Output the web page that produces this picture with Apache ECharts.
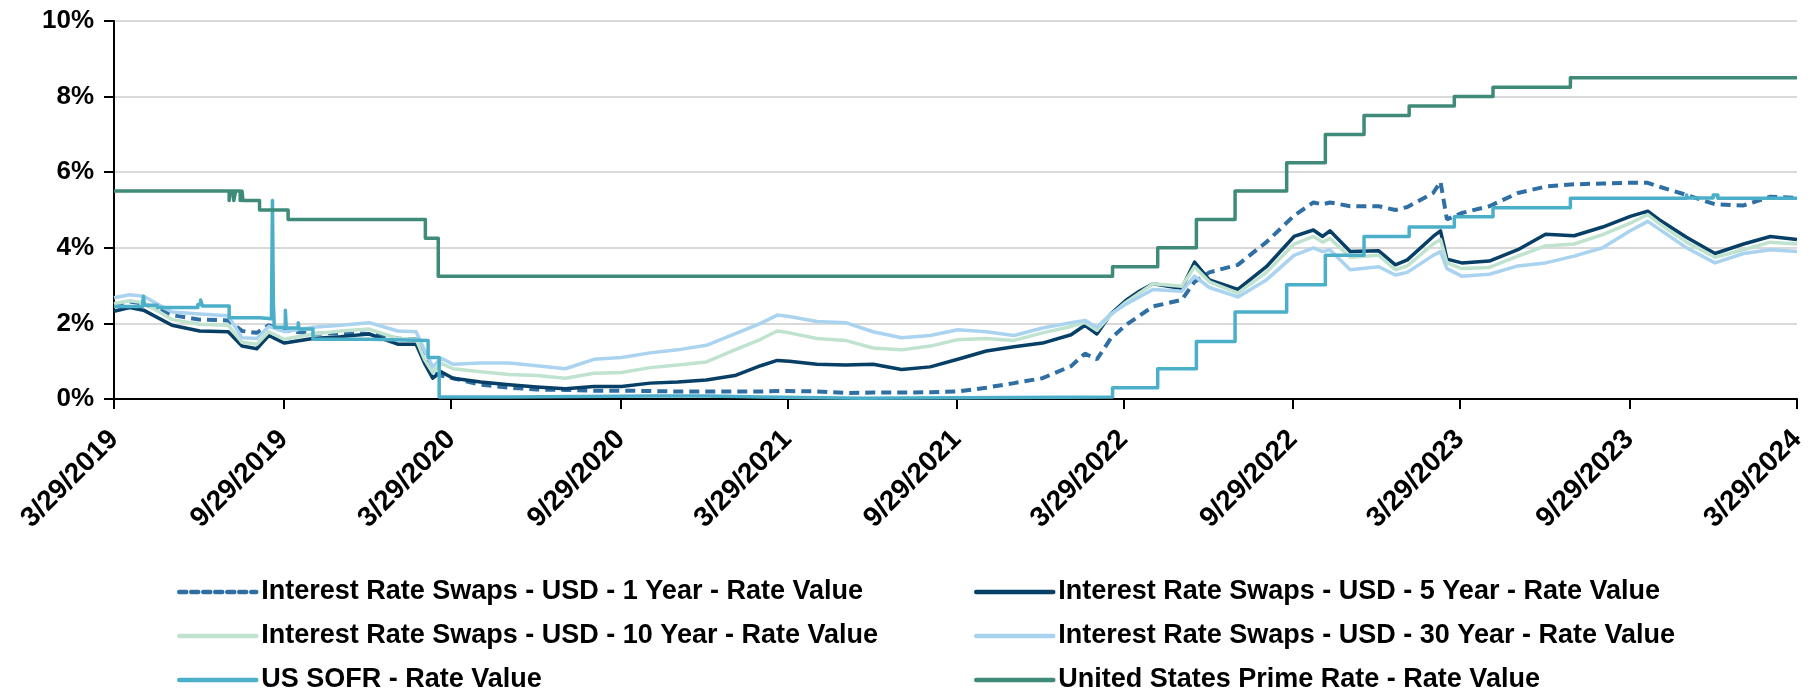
<!DOCTYPE html>
<html>
<head>
<meta charset="utf-8">
<script src="https://cdn.jsdelivr.net/npm/echarts@6/dist/echarts.min.js"></script>
<style>
  html, body { margin: 0; padding: 0; background: #fff; }
  #chart { width: 1818px; height: 693px; }
</style>
</head>
<body>
<div id="chart"></div>
<script>
// x axis tick labels
var tickDates = ['2019-03-29', '2019-09-29', '2020-03-29', '2020-09-29', '2021-03-29', '2021-09-29',
  '2022-03-29', '2022-09-29', '2023-03-29', '2023-09-29', '2024-03-29'];

// swap curves
var swapDates = [
  '2019-03-29', '2019-04-15', '2019-04-30', '2019-05-31', '2019-06-30', '2019-07-31', '2019-08-15', '2019-08-31',
  '2019-09-13', '2019-09-30', '2019-10-31', '2019-11-30', '2019-12-31', '2020-01-31', '2020-02-20', '2020-02-29',
  '2020-03-09', '2020-03-18', '2020-03-31', '2020-04-30', '2020-05-31', '2020-06-30', '2020-07-31', '2020-08-31',
  '2020-09-30', '2020-10-31', '2020-11-30', '2020-12-31', '2021-01-31', '2021-02-28', '2021-03-18', '2021-03-31',
  '2021-04-30', '2021-05-31', '2021-06-30', '2021-07-31', '2021-08-31', '2021-09-30', '2021-10-31', '2021-11-30',
  '2021-12-31', '2022-01-31', '2022-02-15', '2022-02-28', '2022-03-15', '2022-03-31', '2022-04-15', '2022-04-30',
  '2022-05-31', '2022-06-14', '2022-06-30', '2022-07-31', '2022-08-31', '2022-09-30', '2022-10-21', '2022-10-31',
  '2022-11-08', '2022-11-30', '2022-12-31', '2023-01-18', '2023-01-31', '2023-02-28', '2023-03-08', '2023-03-15',
  '2023-03-31', '2023-04-30', '2023-05-31', '2023-06-30', '2023-07-31', '2023-08-31', '2023-09-30', '2023-10-19',
  '2023-10-31', '2023-11-30', '2023-12-31', '2024-01-31', '2024-02-29', '2024-03-29'];
var oneYear = [
  2.50, 2.58, 2.52, 2.22, 2.10, 2.08, 1.80, 1.75,
  1.95, 1.82, 1.72, 1.75, 1.72, 1.60, 1.58, 1.15,
  0.70, 0.62, 0.55, 0.38, 0.30, 0.25, 0.24, 0.22,
  0.22, 0.21, 0.20, 0.20, 0.20, 0.20, 0.21, 0.21,
  0.20, 0.16, 0.17, 0.17, 0.18, 0.20, 0.30, 0.42,
  0.55, 0.87, 1.20, 1.05, 1.60, 1.95, 2.20, 2.45,
  2.62, 3.10, 3.35, 3.55, 4.15, 4.85, 5.20, 5.15,
  5.20, 5.10, 5.10, 5.00, 5.08, 5.45, 5.75, 4.75,
  4.92, 5.10, 5.45, 5.62, 5.68, 5.70, 5.72, 5.72,
  5.62, 5.40, 5.15, 5.12, 5.35, 5.32];
var fiveYear = [
  2.32, 2.42, 2.35, 1.95, 1.80, 1.78, 1.40, 1.33,
  1.68, 1.48, 1.60, 1.65, 1.72, 1.45, 1.45, 0.95,
  0.55, 0.72, 0.55, 0.45, 0.38, 0.32, 0.27, 0.33,
  0.33, 0.42, 0.45, 0.50, 0.62, 0.88, 1.02, 1.00,
  0.92, 0.90, 0.92, 0.78, 0.85, 1.05, 1.27, 1.38,
  1.48, 1.70, 1.95, 1.72, 2.25, 2.60, 2.85, 3.05,
  2.92, 3.62, 3.15, 2.90, 3.50, 4.30, 4.47, 4.30,
  4.45, 3.90, 3.92, 3.55, 3.68, 4.30, 4.45, 3.70,
  3.60, 3.65, 3.95, 4.36, 4.32, 4.55, 4.83, 4.97,
  4.75, 4.28, 3.85, 4.10, 4.30, 4.22];
var tenYear = [
  2.52, 2.60, 2.55, 2.10, 1.98, 1.95, 1.50, 1.45,
  1.78, 1.58, 1.72, 1.80, 1.85, 1.60, 1.58, 1.05,
  0.70, 0.95, 0.80, 0.72, 0.65, 0.62, 0.55, 0.68,
  0.70, 0.83, 0.90, 0.98, 1.30, 1.58, 1.80, 1.75,
  1.60, 1.55, 1.35, 1.30, 1.40, 1.57, 1.60, 1.55,
  1.75, 1.92, 2.02, 1.82, 2.22, 2.55, 2.80, 3.05,
  2.98, 3.50, 3.10, 2.80, 3.35, 4.10, 4.30, 4.15,
  4.25, 3.75, 3.80, 3.42, 3.52, 4.10, 4.22, 3.60,
  3.45, 3.48, 3.78, 4.05, 4.10, 4.35, 4.65, 4.88,
  4.65, 4.15, 3.75, 3.95, 4.15, 4.10];
var thirtyYear = [
  2.68, 2.76, 2.72, 2.30, 2.25, 2.20, 1.62, 1.60,
  1.92, 1.78, 1.90, 1.95, 2.02, 1.80, 1.78, 1.30,
  0.85, 1.08, 0.92, 0.95, 0.95, 0.88, 0.80, 1.05,
  1.10, 1.22, 1.30, 1.42, 1.72, 2.00, 2.22, 2.18,
  2.05, 2.02, 1.78, 1.62, 1.68, 1.83, 1.78, 1.68,
  1.88, 2.02, 2.08, 1.90, 2.25, 2.50, 2.70, 2.90,
  2.85, 3.25, 2.95, 2.70, 3.15, 3.80, 4.00, 3.90,
  3.95, 3.42, 3.50, 3.28, 3.35, 3.80, 3.90, 3.45,
  3.25, 3.30, 3.52, 3.60, 3.78, 4.00, 4.45, 4.70,
  4.50, 4.00, 3.60, 3.85, 3.95, 3.90];

// SOFR, value holds from its date to the next date
var sofrDates = [
  '2019-03-29', '2019-04-29', '2019-04-30', '2019-05-01', '2019-05-15', '2019-06-28', '2019-07-01', '2019-07-03',
  '2019-08-01', '2019-09-03', '2019-09-16', '2019-09-17', '2019-09-18', '2019-09-19', '2019-10-01', '2019-10-02',
  '2019-10-15', '2019-10-16', '2019-10-31', '2019-12-31', '2020-01-02', '2020-03-04', '2020-03-16', '2020-06-01',
  '2020-11-01', '2021-01-01', '2021-03-01', '2021-06-17', '2022-03-17', '2022-05-05', '2022-06-16', '2022-07-28',
  '2022-09-22', '2022-11-03', '2022-12-15', '2023-02-02', '2023-03-23', '2023-05-04', '2023-07-27', '2023-11-30',
  '2023-12-01', '2023-12-29', '2024-01-03', '2024-03-29'];
var sofrValues = [
  2.45, 2.52, 2.72, 2.48, 2.42, 2.50, 2.62, 2.46,
  2.15, 2.12, 2.43, 5.25, 2.55, 1.90, 2.35, 1.88,
  2.02, 1.85, 1.58, 1.62, 1.55, 1.10, 0.05, 0.08,
  0.08, 0.05, 0.02, 0.05, 0.30, 0.80, 1.52, 2.30,
  3.02, 3.80, 4.30, 4.55, 4.82, 5.06, 5.31, 5.40,
  5.32, 5.40, 5.31, 5.32];

// prime rate, value holds from its date to the next date
var primeDates = [
  '2019-03-29', '2019-08-01', '2019-08-03', '2019-08-06', '2019-08-08', '2019-08-13', '2019-08-15', '2019-08-16',
  '2019-09-03', '2019-10-04', '2020-03-01', '2020-03-15', '2022-03-17', '2022-05-05', '2022-06-16', '2022-07-28',
  '2022-09-22', '2022-11-03', '2022-12-15', '2023-02-02', '2023-03-23', '2023-05-04', '2023-07-27', '2024-03-29'];
var primeValues = [
  5.50, 5.25, 5.50, 5.25, 5.50, 5.25, 5.50, 5.25,
  5.00, 4.75, 4.25, 3.25, 3.50, 4.00, 4.75, 5.50,
  6.25, 7.00, 7.50, 7.75, 8.00, 8.25, 8.50, 8.50];

var names = [
  'Interest Rate Swaps - USD - 1 Year - Rate Value',
  'Interest Rate Swaps - USD - 5 Year - Rate Value',
  'Interest Rate Swaps - USD - 10 Year - Rate Value',
  'Interest Rate Swaps - USD - 30 Year - Rate Value',
  'US SOFR - Rate Value',
  'United States Prime Rate - Rate Value'
];
var colors = ['#2f6fa3', '#073f66', '#bfe3cf', '#aad3f0', '#4bafc9', '#3f8a78'];

function ts(d) { return Date.parse(d); }
function pairs(dates, vals) {
  return dates.map(function (d, i) { return [ts(d), vals[i]]; });
}
function fmtDate(v) {
  var d = new Date(v);
  return (d.getUTCMonth() + 1) + '/' + d.getUTCDate() + '/' + d.getUTCFullYear();
}

var font = "'Liberation Sans', Arial, sans-serif";

function lineSeries(i, data, extra) {
  var s = {
    name: names[i],
    type: 'line',
    data: data,
    symbol: 'none',
    z: 2 + i,
    lineStyle: { color: colors[i], width: 3.5, join: 'round' },
    itemStyle: { color: colors[i] }
  };
  if (extra) Object.keys(extra).forEach(function (k) { s[k] = extra[k]; });
  return s;
}

function legendAt(left, items) {
  return {
    orient: 'vertical',
    left: left,
    top: 573,
    height: 118,
    itemWidth: 77,
    itemHeight: 14,
    itemGap: 16,
    itemStyle: { opacity: 0 },
    textStyle: { fontFamily: font, fontSize: 27, fontWeight: 'bold', color: '#000', lineHeight: 28 },
    data: items
  };
}

var chart = echarts.init(document.getElementById('chart'), null, { renderer: 'canvas' });
chart.setOption({
  backgroundColor: '#fff',
  animation: false,
  color: colors,
  grid: { left: 114, right: 21, top: 21, bottom: 294, containLabel: false },
  legend: [
    legendAt(172, [
      { name: names[0], lineStyle: { width: 4.5, type: [7, 5], cap: 'round' } },
      { name: names[2], lineStyle: { width: 4.5, cap: 'round' } },
      { name: names[4], lineStyle: { width: 4.5, cap: 'round' } }
    ]),
    legendAt(969, [
      { name: names[1], lineStyle: { width: 4.5, cap: 'round' } },
      { name: names[3], lineStyle: { width: 4.5, cap: 'round' } },
      { name: names[5], lineStyle: { width: 4.5, cap: 'round' } }
    ])
  ],
  xAxis: {
    type: 'value',
    min: ts(tickDates[0]),
    max: ts(tickDates[tickDates.length - 1]),
    axisLine: { lineStyle: { color: '#000', width: 2 } },
    axisTick: { show: true, length: 10, lineStyle: { color: '#000', width: 2 }, customValues: tickDates.map(ts) },
    axisLabel: {
      customValues: tickDates.map(ts),
      formatter: fmtDate,
      rotate: 45,
      margin: 36,
      fontFamily: font,
      fontSize: 28,
      fontWeight: 'bold',
      color: '#000'
    },
    splitLine: { show: false }
  },
  yAxis: {
    type: 'value',
    min: 0,
    max: 10,
    interval: 2,
    axisLine: { show: true, lineStyle: { color: '#000', width: 2 } },
    axisTick: { show: true, length: 10, lineStyle: { color: '#000', width: 2 } },
    axisLabel: {
      formatter: '{value}%',
      margin: 20,
      fontFamily: font,
      fontSize: 26,
      fontWeight: 'bold',
      color: '#000'
    },
    splitLine: { lineStyle: { color: '#d9d9d9', width: 2 } }
  },
  series: [
    lineSeries(0, pairs(swapDates, oneYear), { lineStyle: { color: colors[0], width: 4, type: [10, 6] } }),
    lineSeries(1, pairs(swapDates, fiveYear)),
    lineSeries(2, pairs(swapDates, tenYear)),
    lineSeries(3, pairs(swapDates, thirtyYear)),
    lineSeries(4, pairs(sofrDates, sofrValues), { step: 'end' }),
    lineSeries(5, pairs(primeDates, primeValues), { step: 'end' })
  ]
});
</script>
</body>
</html>
